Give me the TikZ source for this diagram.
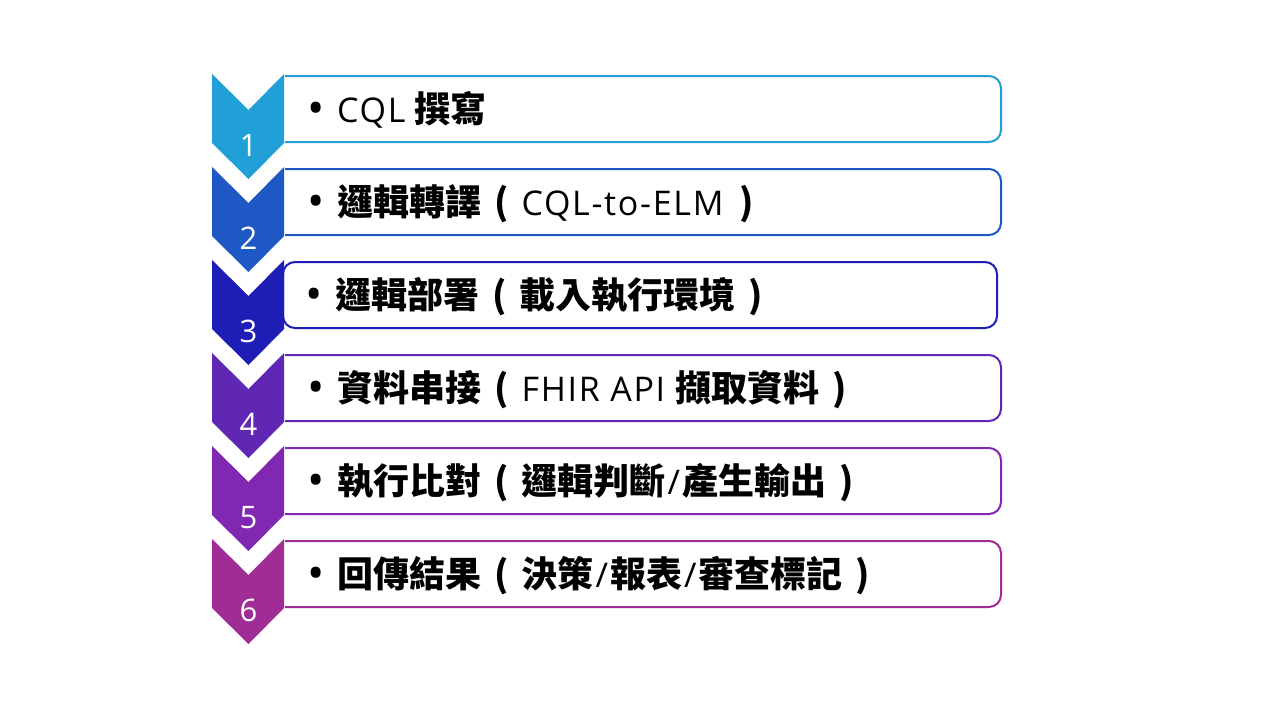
\documentclass[tikz,border=0pt]{standalone}
\usepackage{fontspec}
\setmainfont{Open Sans}
\newfontfamily\zhfont{Noto Sans CJK TC}
\newfontfamily\latfont{Open Sans}[LetterSpace=5]
\newcommand{\zh}[1]{{\zhfont\bfseries\fontsize{36}{36}\selectfont #1}}
\newcommand{\en}[1]{{\latfont\fontsize{34}{34}\selectfont #1}}
\newcommand{\lp}{\hspace{13pt}\zh{(}\hspace{13pt}}
\newcommand{\rp}{\hspace{13pt}\zh{)}}
\newcommand{\sep}{\hspace{2pt}\en{/}\hspace{2pt}}
\newcommand{\bul}{\makebox[30pt][l]{\fontsize{46}{46}\selectfont\raisebox{-2pt}{•}}}
\definecolor{c1}{RGB}{32,160,214}
\definecolor{c2}{RGB}{30,88,196}
\definecolor{c3}{RGB}{30,30,182}
\definecolor{c4}{RGB}{96,38,180}
\definecolor{c5}{RGB}{128,40,178}
\definecolor{c6}{RGB}{160,44,150}
\tikzset{
  rowbox/.style={line width=2pt, rounded corners=12pt},
  numtxt/.style={text=white, font=\fontsize{31}{31}\selectfont, inner sep=0pt, anchor=base},
  itemtxt/.style={text=black, inner sep=0pt, anchor=base west}
}
\begin{document}
\begin{tikzpicture}[x=1pt,y=-1pt]
\useasboundingbox (0,0) rectangle (1280,720);
\fill[white] (0,0) rectangle (1280,720);
\foreach \i/\col/\num/\xl/\xr in {0/c1/1/285/1001,1/c2/2/285/1001,2/c3/3/283/997,3/c4/4/285/1001,4/c5/5/285/1001,5/c6/6/285/1001}{
  \pgfmathsetmacro{\yc}{109+93*\i}
  \ifnum\i=2
    \draw[rowbox,draw=\col] (\xl,\yc-33) -- (\xr,\yc-33) -- (\xr,\yc+33) -- (\xl,\yc+33) -- cycle;
  \else
    \draw[rowbox,draw=\col] (\xl,\yc-33) -- (\xr,\yc-33) -- (\xr,\yc+33) -- (\xl,\yc+33);
  \fi
  \fill[\col] (212,\yc-35) -- (248.5,\yc+1) -- (284,\yc-35) -- (284,\yc+34) -- (248.5,\yc+70) -- (212,\yc+34) -- cycle;
  \node[numtxt] (n\num) at (248.5,\yc+47) {\num};
}
\node[itemtxt] (t1) at (307,122) {\bul\en{CQL}\hspace{9pt}\zh{撰寫}};
\node[itemtxt] (t2) at (307,215) {\bul\zh{邏輯轉譯}\lp\en{CQL-to-ELM}\hspace{3pt}\rp};
\node[itemtxt] (t3) at (305,308) {\bul\zh{邏輯部署}\lp\zh{載入執行環境}\rp};
\node[itemtxt] (t4) at (307,401) {\bul\zh{資料串接}\lp\en{FHIR API}\hspace{10pt}\zh{擷取資料}\rp};
\node[itemtxt] (t5) at (307,494) {\bul\zh{執行比對}\lp\zh{邏輯判斷}\sep\zh{產生輸出}\rp};
\node[itemtxt] (t6) at (307,587) {\bul\zh{回傳結果}\lp\zh{決策}\sep\zh{報表}\sep\zh{審查標記}\rp};
\end{tikzpicture}
\end{document}
